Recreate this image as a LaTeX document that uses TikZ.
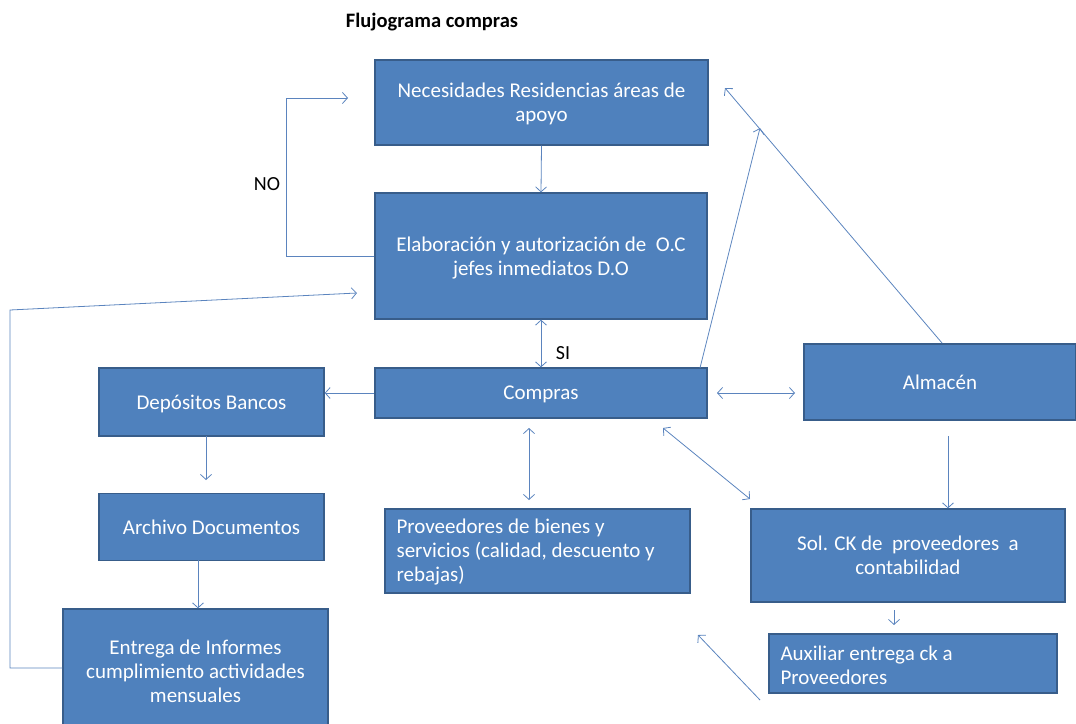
\documentclass[tikz,border=0pt]{standalone}
\usepackage{fontspec}
\setmainfont{Carlito}
\usetikzlibrary{arrows.meta}
\definecolor{boxblue}{HTML}{4F81BD}
\definecolor{boxedge}{HTML}{385D8A}
\definecolor{linkblue}{HTML}{5B84BE}
\tikzset{
  box/.style={fill=boxblue, draw=boxedge, line width=1.3pt, text=white,
    font=\fontsize{21}{24}\selectfont, align=center, inner sep=0pt, text depth=0pt},
  ltext/.style={text=white, font=\fontsize{21}{24}\selectfont, align=left, inner sep=0pt, anchor=west},
  link/.style={draw=linkblue, line width=0.8pt, -{Straight Barb[length=5pt,width=11pt]}},
  dlink/.style={draw=linkblue, line width=0.8pt, {Straight Barb[length=5pt,width=11pt]}-{Straight Barb[length=5pt,width=11pt]}},
  lab/.style={font=\fontsize{20}{24}\selectfont, text=black, inner sep=0pt}
}
\begin{document}
\begin{tikzpicture}[x=1pt,y=-1pt]
\useasboundingbox (0,0) rectangle (1076,723);
% title
\node[font=\fontsize{20.5}{24}\selectfont\bfseries, inner sep=0pt] (title) at (432,22) {Flujograma compras};
% boxes
\node[box, minimum width=333pt, minimum height=85pt] (nec) at (541.5,102.5) {Necesidades Residencias áreas de\\apoyo};
\node[box, minimum width=332pt, minimum height=126pt] (ela) at (541,256) {Elaboración y autorización de ~O.C\\jefes inmediatos D.O};
\node[box, minimum width=332pt, minimum height=50pt] (com) at (541,393) {Compras};
\node[box, minimum width=272pt, minimum height=76pt] (alm) at (940,382) {Almacén};
\node[box, minimum width=225pt, minimum height=68pt] (dep) at (211.5,402) {Depósitos Bancos};
\node[box, minimum width=225pt, minimum height=67pt] (arc) at (211.5,527) {Archivo Documentos};
\node[box, minimum width=265pt, minimum height=124pt] (ent) at (195.5,671) {Entrega de Informes\\cumplimiento actividades\\mensuales};
\node[box, minimum width=305pt, minimum height=84pt] (prov) at (537.5,551) {};
\node[ltext] (provt) at ([xshift=12pt,yshift=-1.5pt]prov.west) {Proveedores de bienes y\\servicios (calidad, descuento y\\rebajas)};
\node[box, minimum width=314pt, minimum height=93pt] (sol) at (908,555.5) {Sol. CK de ~proveedores ~a\\contabilidad};
\node[box, minimum width=288pt, minimum height=59pt] (aux) at (913,663.5) {};
\node[ltext] (auxt) at ([xshift=12pt,yshift=-1.5pt]aux.west) {Auxiliar entrega ck a\\Proveedores};
% labels
\node[lab] (no) at (267,184) {NO};
\node[lab] (si) at (563,353) {SI};
% free-end coordinates
\coordinate (noA) at (286,256);
\coordinate (noB) at (286,98);
\coordinate (noEnd) at (348,98);
\coordinate (entA) at (10,668);
\coordinate (entB) at (10,310);
\coordinate (entEnd) at (357,293);
\coordinate (comTop) at (700,368);
\coordinate (upEnd) at (760,128);
\coordinate (almTop) at (942,343);
\coordinate (almEnd) at (725,88);
\coordinate (caL) at (717,393);
\coordinate (caR) at (795,393);
\coordinate (cpT) at (529,428);
\coordinate (cpB) at (529,500);
\coordinate (csT) at (663,428);
\coordinate (csB) at (750,499);
\coordinate (asT) at (948,436);
\coordinate (saT) at (894,610);
\coordinate (saB) at (894,625);
\coordinate (frA) at (760,700);
\coordinate (frB) at (698,635);
\coordinate (daT) at (206,436);
\coordinate (daB) at (206,480);
\coordinate (aeT) at (198,560);
% connectors
\draw[link] (nec.south) -- (ela.north);
\draw[link] (ela.west) -- (noA) -- (noB) -- (noEnd);
\draw[link] (ent.west |- entA) -- (entA) -- (entB) -- (entEnd);
\draw[dlink] (ela.south) -- (com.north);
\draw[link] (com.west) -- (com.west -| dep.east);
\draw[link] (comTop) -- (upEnd);
\draw[link] (almTop) -- (almEnd);
\draw[dlink] (caL) -- (caR);
\draw[dlink] (cpT) -- (cpB);
\draw[dlink] (csT) -- (csB);
\draw[link] (asT) -- (asT |- sol.north);
\draw[link] (saT) -- (saB);
\draw[link] (frA) -- (frB);
\draw[link] (daT) -- (daB);
\draw[link] (aeT) -- (aeT |- ent.north);
\end{tikzpicture}
\end{document}
